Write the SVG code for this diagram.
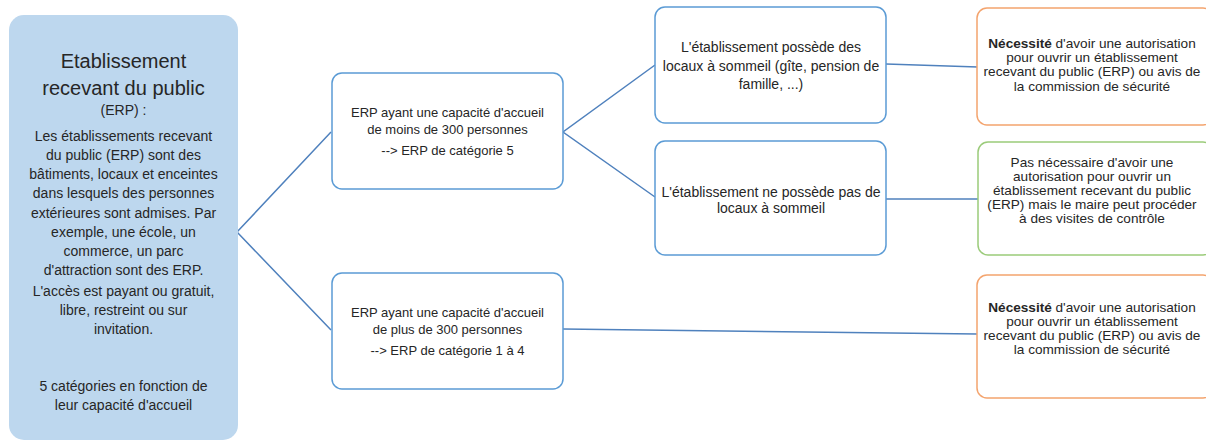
<svg xmlns="http://www.w3.org/2000/svg" width="1206" height="441" viewBox="0 0 1206 441">
<style>
text{font-family:"Liberation Sans",Arial,sans-serif;fill:#262626;text-anchor:middle}
.t{font-size:13px}
.m{font-size:14px}
.s{font-size:13.6px}
.b{font-size:14px}
.box{fill:#fff;stroke:#5B9BD5;stroke-width:1.5}
.or{fill:#fff;stroke:#F4A46E;stroke-width:1.5}
.gr{fill:#fff;stroke:#9BCB7A;stroke-width:1.5}
.c{fill:none;stroke:#4F81BD;stroke-width:1.5}
</style>
<g id="connectors">
<polyline class="c" points="331,132 237,232 331,330"/>
<polyline class="c" points="655,65 563,132 655,197"/>
<line class="c" x1="886" y1="64" x2="978" y2="67"/>
<line class="c" x1="886" y1="199" x2="978" y2="199"/>
<line class="c" x1="563" y1="329" x2="977" y2="334"/>
</g>
<g id="erp">
<rect x="9" y="15" width="229" height="425" rx="15" fill="#BDD7EE"/>
<text x="123.5" y="68" font-size="20">Etablissement</text>
<text x="123.5" y="95" font-size="20">recevant du public</text>
<text x="123.5" y="115" class="b">(ERP) :</text>
<text class="b"><tspan x="123.5" y="141">Les établissements recevant</tspan><tspan x="123.5" y="160">du public (ERP) sont des</tspan><tspan x="123.5" y="179">bâtiments, locaux et enceintes</tspan><tspan x="123.5" y="198">dans lesquels des personnes</tspan><tspan x="123.5" y="218">extérieures sont admises. Par</tspan><tspan x="123.5" y="237">exemple,  une école, un</tspan><tspan x="123.5" y="256">commerce,  un parc</tspan><tspan x="123.5" y="275">d'attraction sont des ERP.</tspan></text>
<text class="b"><tspan x="123.5" y="296">L'accès est payant ou gratuit,</tspan><tspan x="123.5" y="315">libre, restreint ou sur</tspan><tspan x="123.5" y="334">invitation.</tspan></text>
<text class="b"><tspan x="123.5" y="391">5 catégories en fonction de</tspan><tspan x="123.5" y="410">leur capacité d'accueil</tspan></text>
</g>
<g id="moins300">
<rect class="box" x="332" y="73" width="231" height="116" rx="10"/>
<text class="t"><tspan x="447.5" y="117">ERP ayant une capacité d'accueil</tspan><tspan x="447.5" y="134">de moins de 300 personnes</tspan><tspan x="447.5" y="155">--&gt; ERP de catégorie 5</tspan></text>
</g>
<g id="plus300">
<rect class="box" x="332" y="273" width="231" height="116" rx="10"/>
<text class="t"><tspan x="447.5" y="317">ERP ayant une capacité d'accueil</tspan><tspan x="447.5" y="334">de plus de 300 personnes</tspan><tspan x="447.5" y="355">--&gt; ERP de catégorie 1 à 4</tspan></text>
</g>
<g id="sommeil">
<rect class="box" x="655" y="7" width="231" height="116" rx="10"/>
<text class="m"><tspan x="771" y="52">L'établissement possède des</tspan><tspan x="771" y="71">locaux à sommeil (gîte, pension de</tspan><tspan x="771" y="89">famille, ...)</tspan></text>
</g>
<g id="pas-sommeil">
<rect class="box" x="655" y="141" width="231" height="114" rx="10"/>
<text class="m"><tspan x="771" y="197">L'établissement ne possède pas de</tspan><tspan x="771" y="213">locaux à sommeil</tspan></text>
</g>
<g id="autorisation1">
<rect class="or" x="977" y="8" width="236" height="117" rx="10"/>
<text class="s"><tspan x="1092" y="48"><tspan font-weight="bold">Nécessité</tspan> d'avoir une autorisation</tspan><tspan x="1092" y="62">pour ouvrir un établissement</tspan><tspan x="1092" y="76">recevant du public (ERP) ou avis de</tspan><tspan x="1092" y="91">la commission de sécurité</tspan></text>
</g>
<g id="pas-autorisation">
<rect class="gr" x="978" y="142" width="235" height="113" rx="10"/>
<text class="s"><tspan x="1092" y="167">Pas nécessaire d'avoir une</tspan><tspan x="1092" y="181">autorisation pour ouvrir un</tspan><tspan x="1092" y="195">établissement recevant du public</tspan><tspan x="1092" y="209">(ERP) mais le maire peut procéder</tspan><tspan x="1092" y="223">à des visites de contrôle</tspan></text>
</g>
<g id="autorisation2">
<rect class="or" x="977" y="275" width="236" height="123" rx="10"/>
<text class="s"><tspan x="1092" y="312"><tspan font-weight="bold">Nécessité</tspan> d'avoir une autorisation</tspan><tspan x="1092" y="326">pour ouvrir un établissement</tspan><tspan x="1092" y="340">recevant du public (ERP) ou avis de</tspan><tspan x="1092" y="354">la commission de sécurité</tspan></text>
</g>
</svg>
